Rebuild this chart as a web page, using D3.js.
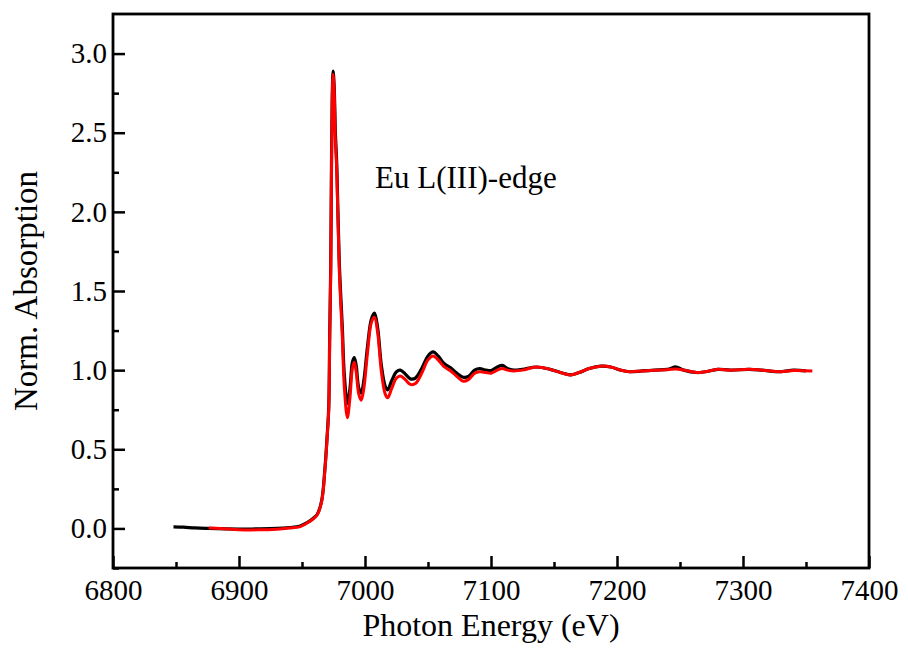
<!DOCTYPE html>
<html>
<head>
<meta charset="utf-8">
<script src="https://cdn.jsdelivr.net/npm/d3@7"></script>
<style>
  html, body { margin: 0; padding: 0; background: #fff; }
  svg text { font-family: 'Liberation Serif', 'Times New Roman', serif; fill: #000; }
</style>
</head>
<body>
<svg id="chart" width="908" height="650"></svg>
<script>
// Eu L(III)-edge XANES: sample (black) and reference (red)
const energySample = [6848, 6856, 6865, 6875, 6890, 6900, 6915, 6930, 6940, 6948, 6954, 6958, 6962, 6965.6, 6968.2,
  6970, 6971.2, 6972, 6972.8, 6973.4, 6974, 6974.7, 6975.5, 6976.5, 6977.6, 6979.6, 6982, 6983.6, 6986,
  6988, 6990, 6991.5, 6993, 6995, 6997, 6999, 7002, 7005, 7007.5, 7010, 7013, 7016, 7018, 7021, 7025, 7028,
  7032, 7036, 7040, 7045, 7050, 7054, 7058, 7063, 7068, 7073, 7078, 7082, 7087, 7091, 7096, 7100, 7105,
  7109, 7113, 7118, 7125, 7136, 7147, 7155, 7163, 7170, 7178, 7187, 7195, 7203, 7210, 7220, 7230, 7240,
  7247, 7253, 7263, 7270, 7280, 7290, 7305, 7315, 7330, 7340, 7350];
const absSample = [0.010, 0.008, 0.003, 0.000, -0.003, -0.004, -0.003, 0.000, 0.006, 0.014, 0.036, 0.058, 0.088, 0.175, 0.38,
  0.59, 0.76, 1.23, 1.66, 2.29, 2.73, 2.89, 2.80, 2.50, 2.30, 1.68, 1.27, 0.97, 0.79,
  0.88, 1.05, 1.08, 1.03, 0.89, 0.855, 0.93, 1.15, 1.32, 1.36, 1.27, 1.03, 0.90, 0.875, 0.93, 0.99, 1.00,
  0.975, 0.945, 0.95, 1.01, 1.09, 1.115, 1.09, 1.04, 1.015, 0.98, 0.955, 0.96, 1.00, 1.01, 1.00, 0.997, 1.02,
  1.03, 1.01, 1.00, 1.005, 1.02, 1.005, 0.985, 0.97, 0.985, 1.01, 1.025, 1.02, 1.00, 0.99, 0.995, 1.00, 1.005,
  1.02, 1.00, 0.985, 0.99, 1.005, 1.00, 1.005, 1.00, 0.99, 1.00, 0.995];

const energyRef = [6876, 6885, 6900, 6915, 6930, 6940, 6948, 6954, 6958, 6962, 6965.6, 6968.2,
  6970, 6971.2, 6972, 6972.8, 6973.4, 6974, 6974.7, 6975.5, 6976.5, 6977.6, 6979.6, 6982, 6983.6, 6986,
  6988, 6990, 6991.5, 6993, 6995, 6997, 6999, 7002, 7005, 7007.5, 7010, 7013, 7016, 7018, 7021, 7025, 7028,
  7032, 7036, 7040, 7045, 7050, 7054, 7058, 7063, 7068, 7073, 7078, 7082, 7087, 7091, 7096, 7100, 7105,
  7109, 7113, 7118, 7125, 7136, 7147, 7155, 7163, 7170, 7178, 7187, 7195, 7203, 7210, 7220, 7230, 7240,
  7247, 7253, 7263, 7270, 7280, 7290, 7305, 7315, 7330, 7340, 7355];
const absRef = [0.002, 0.000, -0.008, -0.009, -0.005, 0.002, 0.010, 0.034, 0.055, 0.085, 0.17, 0.37,
  0.58, 0.75, 1.21, 1.63, 2.26, 2.70, 2.87, 2.77, 2.45, 2.26, 1.63, 1.21, 0.89, 0.70,
  0.82, 1.01, 1.05, 0.99, 0.85, 0.81, 0.88, 1.11, 1.30, 1.335, 1.24, 0.99, 0.85, 0.825, 0.88, 0.95, 0.963,
  0.94, 0.91, 0.915, 0.98, 1.065, 1.09, 1.065, 1.02, 0.995, 0.96, 0.93, 0.94, 0.98, 0.99, 0.985, 0.98, 1.00,
  1.01, 1.00, 0.995, 1.00, 1.02, 1.005, 0.985, 0.97, 0.985, 1.01, 1.025, 1.02, 1.00, 0.99, 0.995, 1.00, 1.003,
  1.007, 1.00, 0.985, 0.99, 1.005, 1.00, 1.005, 1.00, 0.99, 0.998, 0.995];

const xTicks = [6800, 6900, 7000, 7100, 7200, 7300, 7400];
const xMinorTicks = [6850, 6950, 7050, 7150, 7250, 7350];
const yTicks = [0.0, 0.5, 1.0, 1.5, 2.0, 2.5, 3.0];
const yMinorTicks = [-0.25, 0.25, 0.75, 1.25, 1.75, 2.25, 2.75];

const serif = "'Liberation Serif', 'Times New Roman', serif";
const margin = { left: 113, right: 39, top: 14, bottom: 82 };
const W = 908, H = 650;
const iw = W - margin.left - margin.right;
const ih = H - margin.top - margin.bottom;

const svg = d3.select("#chart");
const g = svg.append("g").attr("transform", `translate(${margin.left},${margin.top})`);

const x = d3.scaleLinear().domain([6800, 7400]).range([0, iw]);
const y = d3.scaleLinear().domain([-0.25, 3.25]).range([ih, 0]);

// spectra
const line = d3.line()
  .x(d => x(d[0]))
  .y(d => y(d[1]))
  .curve(d3.curveCatmullRom.alpha(0.5));

const sample = d3.zip(energySample, absSample);
const ref = d3.zip(energyRef, absRef);

g.append("path").datum(sample)
  .attr("d", line).attr("fill", "none")
  .attr("stroke", "#000").attr("stroke-width", 3.2).attr("stroke-linejoin", "round");
g.append("path").datum(ref)
  .attr("d", line).attr("fill", "none")
  .attr("stroke", "#ff0000").attr("stroke-width", 3).attr("stroke-linejoin", "round");

// axes with inward ticks
const tickStyle = sel => {
  sel.attr("font-family", null).attr("font-size", null);
  sel.select(".domain").remove();
  sel.selectAll("line").attr("stroke", "#000").attr("stroke-width", 2.5);
  sel.selectAll("text").style("font-family", serif).style("font-size", "29px");
};

g.append("g").attr("transform", `translate(0,${ih})`)
  .call(d3.axisBottom(x).tickValues(xTicks).tickFormat(d3.format("d")).tickSizeInner(-12).tickPadding(11))
  .call(tickStyle);

g.append("g").attr("transform", `translate(0,${ih})`)
  .call(d3.axisBottom(x).tickValues(xMinorTicks).tickFormat("").tickSizeInner(-6))
  .call(tickStyle);

g.append("g")
  .call(d3.axisLeft(y).tickValues(yTicks).tickFormat(d3.format(".1f")).tickSizeInner(-12).tickPadding(6))
  .call(tickStyle);

g.append("g")
  .call(d3.axisLeft(y).tickValues(yMinorTicks).tickFormat("").tickSizeInner(-6))
  .call(tickStyle);

// frame
g.append("rect").attr("x", 0).attr("y", 0).attr("width", iw).attr("height", ih)
  .attr("fill", "none").attr("stroke", "#000").attr("stroke-width", 2.8);

// annotation
g.append("text").attr("x", x(7008)).attr("y", y(2.15))
  .style("font-family", serif).style("font-size", "31px").text("Eu L(III)-edge");

// axis titles
svg.append("text").attr("x", margin.left + iw / 2).attr("y", 636)
  .attr("text-anchor", "middle").style("font-family", serif).style("font-size", "32px")
  .text("Photon Energy (eV)");
svg.append("text")
  .attr("transform", `translate(37,${margin.top + y(1.5)}) rotate(-90)`)
  .attr("text-anchor", "middle").style("font-family", serif).style("font-size", "33px")
  .text("Norm. Absorption");
</script>
</body>
</html>
